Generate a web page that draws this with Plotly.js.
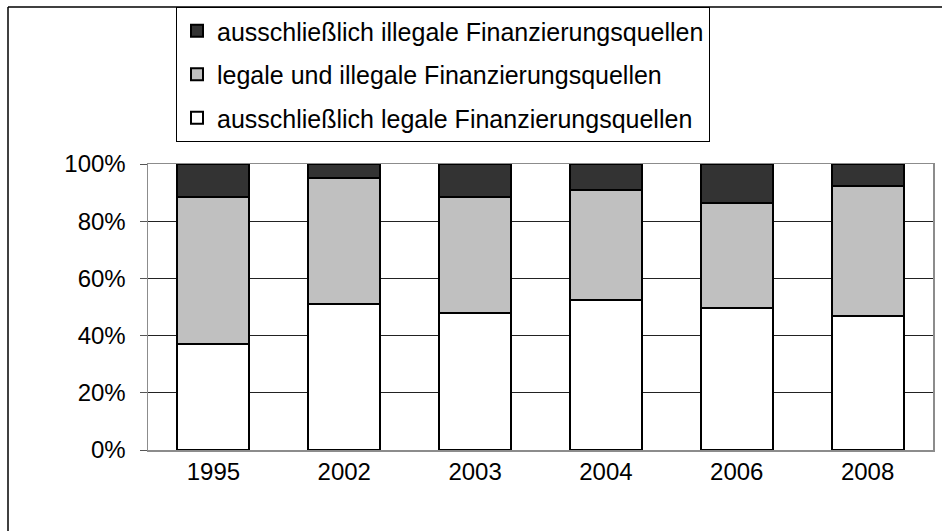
<!DOCTYPE html>
<html>
<head>
<meta charset="utf-8">
<script src="https://cdn.plot.ly/plotly-3.0.1.min.js"></script>
<style>html,body{margin:0;padding:0;background:#fff;}#chart{width:942px;height:531px;}</style>
</head>
<body>
<div id="chart"></div>
<script>
var years = ["1995", "2002", "2003", "2004", "2006", "2008"];
var nurLegal = [37, 51, 48, 52.3, 49.5, 46.7];
var legalUndIllegal = [51.5, 44, 40.5, 38.5, 37, 45.5];
var nurIllegal = [11.5, 5, 11.5, 9.2, 13.5, 7.8];
var seriesNames = [
  "ausschließlich legale Finanzierungsquellen",
  "legale und illegale Finanzierungsquellen",
  "ausschließlich illegale Finanzierungsquellen"
];
var yTickVals = [0, 20, 40, 60, 80, 100];
var yTickText = ["0%", "20%", "40%", "60%", "80%", "100%"];

var FONT = "Liberation Sans, Arial, sans-serif";
function bar(y, name, color, grp, rank) {
  return {
    type: "bar", x: years, y: y, name: name, legendgroup: grp, legendrank: rank,
    marker: {color: color, line: {color: "#000", width: 2}},
    hoverinfo: "x+y+name"
  };
}
var data = [
  bar(nurLegal, seriesNames[0], "#FFFFFF", "a", 3),
  bar(legalUndIllegal, seriesNames[1], "#C0C0C0", "b", 2),
  bar(nurIllegal, seriesNames[2], "#333333", "c", 1)
];
var layout = {
  width: 942, height: 531,
  margin: {l: 148, r: 9, t: 164, b: 81, pad: 0, autoexpand: false},
  paper_bgcolor: "#fff", plot_bgcolor: "#fff",
  font: {family: FONT, size: 24, color: "#000"},
  barmode: "stack", bargap: 0.45,
  showlegend: true,
  legend: {
    xref: "paper", yref: "paper",
    x: (176-148)/785, y: (450-7)/286, xanchor: "left", yanchor: "top",
    bgcolor: "#fff", bordercolor: "#000", borderwidth: 1,
    traceorder: "grouped", tracegroupgap: 8,
    font: {family: FONT, size: 25, color: "#000"}
  },
  xaxis: {
    type: "category", showgrid: false, zeroline: false,
    showline: true, mirror: true, linecolor: "#8c8c8c", linewidth: 1.5,
    ticks: "", ticklabelstandoff: 0, tickangle: 0,
    tickfont: {family: FONT, size: 24, color: "#000"}
  },
  yaxis: {
    range: [0, 100], tickvals: yTickVals, ticktext: yTickText,
    showgrid: true, gridcolor: "#222", gridwidth: 1, zeroline: false,
    showline: true, mirror: true, linecolor: "#8c8c8c", linewidth: 1.5,
    ticks: "outside", ticklen: 7, tickcolor: "#555", tickwidth: 1,
    ticklabelstandoff: 9,
    tickfont: {family: FONT, size: 24, color: "#000"}
  },
  shapes: [
    {type: "line", xref: "paper", yref: "paper", x0: (8-148)/785, x1: (950-148)/785, y0: (450-7)/286, y1: (450-7)/286, line: {color: "#000", width: 1.5}},
    {type: "line", xref: "paper", yref: "paper", x0: (8-148)/785, x1: (8-148)/785, y0: (450-7)/286, y1: (450-540)/286, line: {color: "#000", width: 1.5}}
  ]
};
Plotly.newPlot("chart", data, layout, {displayModeBar: false, staticPlot: true});
</script>
</body>
</html>
